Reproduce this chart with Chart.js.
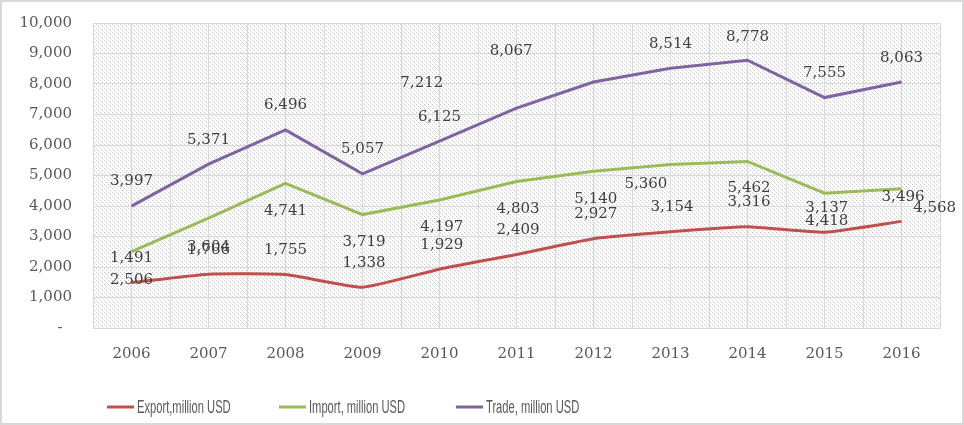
<!DOCTYPE html>
<html>
<head>
<meta charset="utf-8">
<script src="https://cdn.jsdelivr.net/npm/chart.js@4.4.1/dist/chart.umd.min.js"></script>
<style>
  html, body { margin: 0; padding: 0; background: #ffffff; }
  #frame { width: 964px; height: 425px; box-sizing: border-box; border: 2px solid #d9d9d9; background: #fff; }
  #wrap { position: relative; width: 960px; height: 421px; }
</style>
</head>
<body>
<div id="frame"><div id="wrap"><canvas id="c" width="960" height="421"></canvas></div></div>
<script>
// ---- data ----
const categories = ['2006','2007','2008','2009','2010','2011','2012','2013','2014','2015','2016'];
const exportValues = [1491, 1766, 1755, 1338, 1929, 2409, 2927, 3154, 3316, 3137, 3496];
const importValues = [2506, 3604, 4741, 3719, 4197, 4803, 5140, 5360, 5462, 4418, 4568];
const tradeValues  = [3997, 5371, 6496, 5057, 6125, 7212, 8067, 8514, 8778, 7555, 8063];
const seriesNames = ['Export,million USD', 'Import, million USD', 'Trade, million USD'];
const yTickValues = [0, 1000, 2000, 3000, 4000, 5000, 6000, 7000, 8000, 9000, 10000];

// data labels as they appear in the reference (text, category position, value position)
const labelTexts = ['3,997','5,371','6,496','4,741','1,491','2,506','3,604','1,766','1,755',
  '5,057','7,212','6,125','8,067','3,719','1,338','4,197','1,929','4,803','2,409',
  '8,514','8,778','5,360','5,140','2,927','3,154','5,462','3,316',
  '7,555','8,063','3,137','4,418','3,496','4,568'];
const labelCategoryAt = [0, 1, 2, 2, 0, 0, 1, 1, 2,
  3, 3.77, 4, 4.93, 3.02, 3.02, 4.03, 4.03, 5.02, 5.02,
  7, 8, 6.68, 6.03, 6.03, 7.02, 8.02, 8.02,
  9, 10, 9.03, 9.03, 10.02, 10.43];
const labelValueAt = [4820, 6164, 7311, 3836, 2305, 1584, 2650, 2560, 2557,
  5869, 8022, 6929, 9082, 2809, 2142, 3322, 2721, 3902, 3213,
  9301, 9552, 4711, 4230, 3748, 3967, 4580, 4142,
  8350, 8842, 3924, 3508, 4305, 3924];

// ---- styles ----
const COLORS = ['#c0504d', '#9bbb59', '#8064a2'];
const GRID = '#d9d9d9';
const TEXT = '#404040';
const TICK = '#595959';
const NUM_FONT = "'DejaVu Serif', 'Liberation Serif', serif";
const LEGEND_FONT = "'Liberation Sans', Arial, sans-serif";

function makeHatch() {
  const p = document.createElement('canvas');
  p.width = 4; p.height = 4;
  const g = p.getContext('2d');
  g.fillStyle = '#ffffff';
  g.fillRect(0, 0, 4, 4);
  g.fillStyle = '#c9c9c9';
  g.fillRect(0, 0, 1, 1);
  g.fillRect(2, 2, 1, 1);
  g.fillStyle = '#ececec';
  g.fillRect(1, 1, 1, 1);
  g.fillRect(3, 3, 1, 1);
  return p;
}

const hatchPlugin = {
  id: 'hatch',
  beforeDraw(chart) {
    const { ctx, chartArea: a } = chart;
    ctx.save();
    ctx.fillStyle = ctx.createPattern(makeHatch(), 'repeat');
    ctx.fillRect(a.left, a.top, a.right - a.left, a.bottom - a.top);
    ctx.restore();
  }
};

const labelPlugin = {
  id: 'valueLabels',
  afterDatasetsDraw(chart) {
    const { ctx, scales } = chart;
    ctx.save();
    ctx.font = '15px ' + NUM_FONT;
    ctx.fillStyle = TEXT;
    ctx.textAlign = 'center';
    ctx.textBaseline = 'middle';
    labelTexts.forEach((t, i) => {
      const x = scales.x.getPixelForValue(labelCategoryAt[i]);
      const y = scales.y.getPixelForValue(labelValueAt[i]);
      ctx.fillText(t, x, y);
    });
    ctx.restore();
  }
};

const legendPlugin = {
  id: 'bottomLegend',
  afterDraw(chart, args, opts) {
    const { ctx } = chart;
    chart.data.datasets.forEach((ds, i) => {
      const x0 = opts.starts[i];
      ctx.save();
      ctx.strokeStyle = ds.borderColor;
      ctx.lineWidth = 3;
      ctx.beginPath();
      ctx.moveTo(x0, opts.y);
      ctx.lineTo(x0 + 27, opts.y);
      ctx.stroke();
      ctx.font = '18px ' + LEGEND_FONT;
      ctx.fillStyle = TICK;
      ctx.textBaseline = 'middle';
      ctx.textAlign = 'left';
      ctx.translate(x0 + 30, opts.y + 1);
      ctx.scale(opts.squeeze, 1);
      ctx.fillText(ds.label, 0, 0);
      ctx.restore();
    });
  }
};

new Chart(document.getElementById('c'), {
  type: 'line',
  data: {
    labels: categories,
    datasets: [
      { label: seriesNames[0], data: exportValues, borderColor: COLORS[0], backgroundColor: COLORS[0], borderWidth: 3, pointRadius: 0, tension: 0.15, fill: false },
      { label: seriesNames[1], data: importValues, borderColor: COLORS[1], backgroundColor: COLORS[1], borderWidth: 3, pointRadius: 0, tension: 0, fill: false },
      { label: seriesNames[2], data: tradeValues,  borderColor: COLORS[2], backgroundColor: COLORS[2], borderWidth: 3, pointRadius: 0, tension: 0, fill: false }
    ]
  },
  options: {
    responsive: false,
    animation: false,
    events: [],
    layout: { padding: { left: 0, top: 21, right: 22, bottom: 55 } },
    plugins: {
      legend: { display: false },
      tooltip: { enabled: false },
      bottomLegend: { starts: [105, 277, 454], y: 405, squeeze: 0.62 }
    },
    scales: {
      x: {
        type: 'category',
        offset: true,
        grid: { color: GRID, lineWidth: 1, offset: false, drawTicks: false },
        border: { color: GRID, width: 1 },
        ticks: { color: TICK, font: { family: NUM_FONT, size: 15 }, padding: 17, maxRotation: 0, autoSkip: false },
        afterFit(s) { s.height = 40; }
      },
      x2: {
        type: 'category',
        labels: categories,
        position: 'bottom',
        offset: true,
        grid: { color: GRID, lineWidth: 1, offset: true, drawTicks: false },
        border: { display: false },
        ticks: { display: false },
        afterFit(s) { s.height = 0; }
      },
      y: {
        min: 0,
        max: 10000,
        afterBuildTicks(s) { s.ticks = yTickValues.map(v => ({ value: v })); },
        grid: { color: GRID, lineWidth: 1, drawTicks: false },
        border: { color: GRID, width: 1 },
        ticks: {
          color: TICK,
          font: { family: NUM_FONT, size: 15 },
          padding: 21,
          callback: (v) => v === 0 ? '-  ' : v.toLocaleString('en-US')
        },
        afterFit(s) { s.width = 91; s.paddingTop = 0; s.paddingBottom = 0; }
      }
    }
  },
  plugins: [hatchPlugin, labelPlugin, legendPlugin]
});
</script>
</body>
</html>
